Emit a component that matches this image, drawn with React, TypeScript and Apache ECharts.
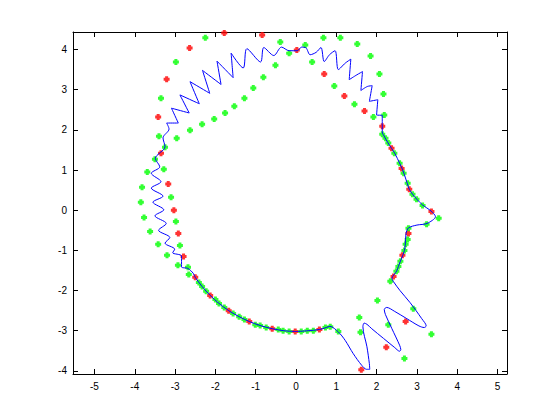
import React, { useEffect, useRef } from "react";
import * as echarts from "echarts";

// Blue curve, traced counterclockwise from the bottom (x, y pairs)
const curveX = [
  0.0, 0.3, 0.58, 0.75, 0.84, 1.05, 1.22, 1.42, 1.63, 1.75, 1.83, 1.82, 1.76, 1.66, 1.69, 1.76, 1.88, 2.17, 2.45, 2.57, 2.6, 2.57, 2.38, 2.22, 2.19, 2.25, 2.45, 2.75, 3.05, 3.18, 3.23, 3.12, 2.83, 2.58, 2.42, 2.38,
  2.5, 2.54, 2.59, 2.65, 2.69, 2.71, 2.73, 2.79, 3.0, 3.25, 3.46, 3.35, 3.14, 3.0, 2.89, 2.81, 2.76, 2.69, 2.64, 2.57, 2.46, 2.37, 2.28, 2.2, 2.14, 2.14,
  2.14, 2.0, 2.03, 1.82, 1.89, 1.77, 1.61, 1.65, 1.51, 1.32, 1.36, 1.22, 1.05, 0.97, 0.83, 0.7, 0.62, 0.5, 0.35, 0.25, 0.14, 0.03, -0.17, -0.36, -0.55, -0.8, -0.88, -1.22, -1.31, -1.61, -1.56, -1.96, -1.86, -2.32, -2.14, -2.63, -2.4, -2.88, -2.65, -3.09, -2.92, -3.21,
  -3.15, -3.3, -3.25, -3.49, -3.38, -3.59, -3.35, -3.59, -3.3, -3.55, -3.28, -3.5, -3.22, -3.41, -3.13, -3.25, -3.01, -3.06, -2.84, -2.84, -2.68, -2.55,
  -2.5, -2.33, -2.13, -1.91, -1.67, -1.41, -1.16, -0.89, -0.59, -0.3, 0.0,
];
const curveY = [
  -3.02, -3.0, -2.97, -2.92, -2.89, -3.03, -3.24, -3.57, -3.86, -3.96, -3.96, -3.82, -3.4, -2.9, -2.81, -2.84, -2.95, -3.19, -3.42, -3.51, -3.47, -3.36, -2.95, -2.6, -2.47, -2.42, -2.52, -2.7, -2.88, -2.92, -2.88, -2.7, -2.3, -2.0, -1.78, -1.7,
  -1.51, -1.4, -1.27, -1.12, -1.0, -0.87, -0.58, -0.44, -0.37, -0.33, -0.16, -0.02, 0.13, 0.27, 0.4, 0.52, 0.67, 0.88, 1.02, 1.17, 1.4, 1.54, 1.68, 1.82, 1.95, 2.09,
  2.36, 2.37, 2.75, 2.71, 3.1, 3.08, 2.98, 3.45, 3.37, 3.25, 3.76, 3.66, 3.5, 3.97, 3.87, 3.7, 4.05, 3.93, 3.87, 4.04, 4.06, 3.97, 3.97, 4.06, 3.85, 4.05, 3.69, 4.02, 3.54, 3.91, 3.3, 3.71, 3.13, 3.48, 2.91, 3.2, 2.65, 2.87, 2.42, 2.54, 2.17, 2.17,
  2.02, 1.8, 1.58, 1.29, 1.08, 0.92, 0.71, 0.55, 0.35, 0.2, 0.01, -0.14, -0.33, -0.5, -0.68, -0.82, -0.97, -1.06, -1.14, -1.41, -1.45, -1.57,
  -1.67, -1.9, -2.12, -2.32, -2.5, -2.65, -2.77, -2.87, -2.95, -3.0, -3.02,
];

// Red points
const redX = [3.36, 2.81, 2.62, 2.37, 2.14, 1.7, 1.2, 0.7, 0.02, -0.84, -1.78, -2.64, -3.21, -3.42, -3.35, -3.17, -3.03, -2.92, -2.79, -2.5, -2.13, -1.67, -1.16, -0.59, -0.02, 0.58, 1.62, 2.24, 2.72, 2.42, 2.64, 2.79];
const redY = [-0.03, 0.52, 1.04, 1.54, 2.09, 2.47, 2.84, 3.39, 3.99, 4.36, 4.41, 4.04, 3.26, 2.32, 1.42, 0.65, 0.0, -0.58, -1.15, -1.67, -2.12, -2.5, -2.77, -2.95, -3.02, -2.97, -3.97, -3.41, -2.77, -1.65, -1.12, -0.58];

// Green points
const greenX = [
  -1.31, -2.25, -2.98, -3.35, -3.4, -3.5, -3.69, -3.82, -3.85, -3.77, -3.62, -3.42, -3.2,
  -3.25, -3.28, -3.1, -2.98, -2.88, -2.93,
  -2.96, -2.63, -2.33, -2.03, -1.76, -1.53, -1.28, -1.06, -0.81, -0.51, -0.17, 0.4, 0.95, 1.45, 1.92,
  -0.39, 0.23, 0.68, 1.1, 1.52, 1.85, 2.07, 2.17, 2.19,
  2.14, 2.22, 2.29, 2.44, 2.57, 2.67, 2.77, 2.89, 2.99, 3.14, 3.54, 3.24, 2.79, 2.77, 2.72, 2.69, 2.59, 2.54, 2.49, 2.34,
  2.02, 2.91, 2.29, 1.57, 1.6, 3.36, 2.69, 1.9, 1.05, 0.85, 0.73, 0.43, 0.28, 0.13, -0.17, -0.32,
  -0.44, -0.74, -0.89, -1.01, -1.28, -1.41, -1.56, -1.78, -1.91, -2.0, -2.23, -2.33, -2.41, -2.66, -2.68,
];
const greenY = [
  4.44, 4.29, 3.69, 2.79, 1.84, 1.27, 0.95, 0.57, 0.2, -0.18, -0.53, -0.85, -1.12,
  1.57, 1.02, 0.32, -0.28, -0.88, -1.37,
  1.79, 1.99, 2.14, 2.27, 2.42, 2.59, 2.79, 3.04, 3.31, 3.61, 3.91, 3.69, 3.09, 2.64, 2.32,
  4.19, 4.11, 4.29, 4.29, 4.14, 3.84, 3.39, 2.89, 2.37,
  1.89, 1.79, 1.67, 1.42, 1.17, 0.92, 0.67, 0.4, 0.27, 0.12, -0.2, -0.35, -0.45, -0.73, -0.85, -1.0, -1.27, -1.4, -1.52, -1.77,
  -2.25, -2.45, -2.85, -2.67, -3.04, -3.09, -3.69, -4.09, -3.02, -2.9, -2.92, -3.0, -3.0, -3.02, -3.02, -3.0,
  -2.97, -2.92, -2.87, -2.85, -2.72, -2.65, -2.57, -2.42, -2.32, -2.22, -2.02, -1.9, -1.8, -1.6, -1.42,
];

const xTicks = [-5, -4, -3, -2, -1, 0, 1, 2, 3, 4, 5];
const yTicks = [-4, -3, -2, -1, 0, 1, 2, 3, 4];

const X_MIN = -5.533;
const X_MAX = 5.235;
const Y_MIN = -4.077;
const Y_MAX = 4.436;

const DOT = "path://M1.5,0H4.5V1.5H6V4.5H4.5V6H1.5V4.5H0V1.5H1.5Z";

const zip = (xs: number[], ys: number[]) => xs.map((x, i) => [x, ys[i]]);

export default function App() {
  const ref = useRef<HTMLDivElement>(null);
  useEffect(() => {
    if (!ref.current) return;
    const chart = echarts.init(ref.current, null, { renderer: "svg" });
    const font = { fontFamily: "Liberation Sans, Arial, sans-serif", fontSize: 10, color: "#000" };
    const axisLine = { show: true, onZero: false, lineStyle: { color: "#000", width: 1 } };
    const mkX = (pos: "bottom" | "top", labels: boolean) => ({
      type: "value",
      position: pos,
      min: X_MIN,
      max: X_MAX,
      axisLine,
      splitLine: { show: false },
      axisTick: { show: true, inside: true, length: 5, customValues: xTicks, lineStyle: { color: "#000" } },
      axisLabel: { show: labels, customValues: xTicks, margin: 7, ...font },
    });
    const mkY = (pos: "left" | "right", labels: boolean) => ({
      type: "value",
      position: pos,
      min: Y_MIN,
      max: Y_MAX,
      axisLine,
      splitLine: { show: false },
      axisTick: { show: true, inside: true, length: 5, customValues: yTicks, lineStyle: { color: "#000" } },
      axisLabel: { show: labels, customValues: yTicks, margin: 6, ...font },
    });
    chart.setOption({
      animation: false,
      backgroundColor: "#fff",
      grid: { left: 73, right: 53, top: 32, bottom: 46 },
      xAxis: [mkX("bottom", true), mkX("top", false)],
      yAxis: [mkY("left", true), mkY("right", false)],
      series: [
        {
          type: "line",
          data: zip(curveX, curveY),
          showSymbol: false,
          symbol: "none",
          smooth: 0.3,
          lineStyle: { color: "#0000ff", width: 1 },
          clip: true,
        },
        {
          type: "scatter",
          data: zip(redX, redY),
          symbol: DOT,
          symbolSize: 6,
          itemStyle: { color: "#ff0000" },
          clip: true,
        },
        {
          type: "scatter",
          data: zip(greenX, greenY),
          symbol: DOT,
          symbolSize: 6,
          itemStyle: { color: "#00ff00" },
          clip: true,
        },
      ],
    });
    return () => chart.dispose();
  }, []);
  return (
    <div
      ref={ref}
      style={{ position: "fixed", left: 0, top: 0, width: 560, height: 420, background: "#fff" }}
    />
  );
}
